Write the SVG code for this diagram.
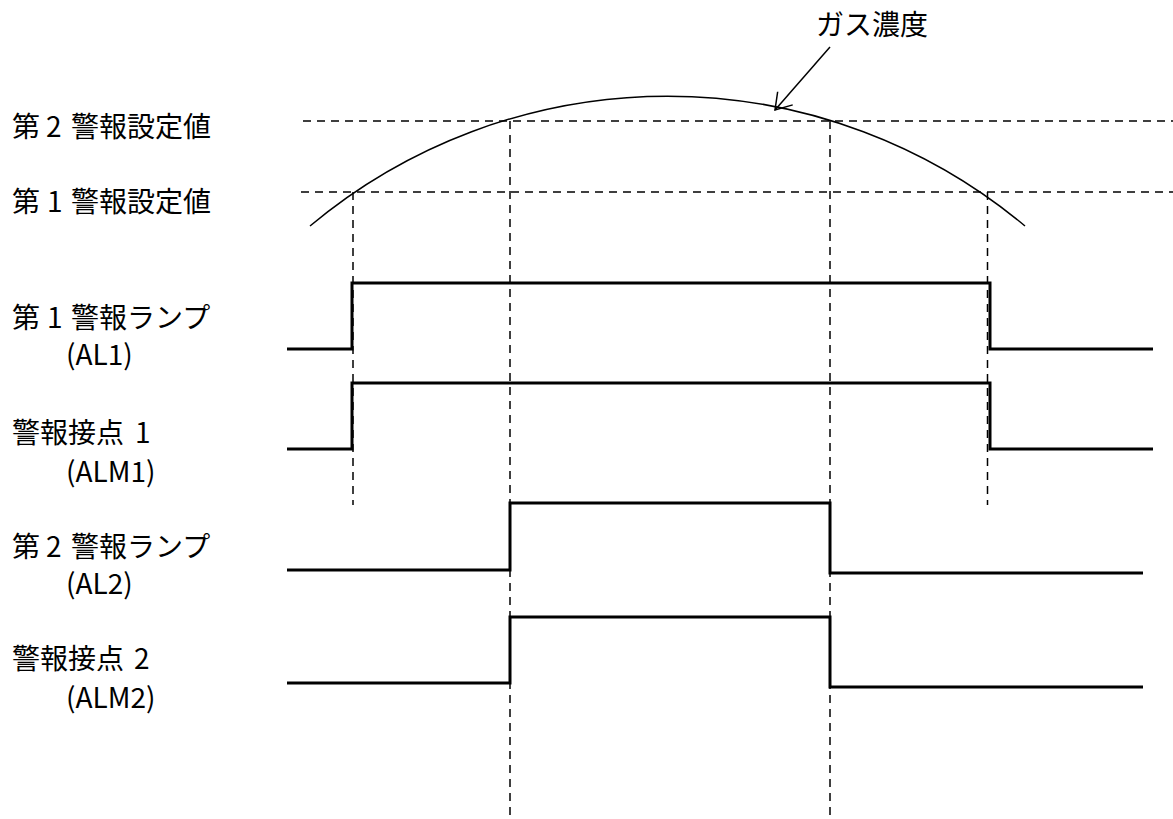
<svg xmlns="http://www.w3.org/2000/svg" width="1173" height="819" viewBox="0 0 1173 819">
  <style>
    .lbl { font-family: "Noto Sans CJK JP", "Noto Sans", sans-serif; font-size: 28px; fill: #000; }
    .dash { fill: none; stroke: #000; stroke-width: 1.5; stroke-dasharray: 8 6; }
    .thin { fill: none; stroke: #000; stroke-width: 1.5; }
    .wave { fill: none; stroke: #000; stroke-width: 3; stroke-linejoin: miter; }
  </style>
  <defs>
    <marker id="openArrow" markerUnits="userSpaceOnUse" viewBox="-20 -12 22 24" markerWidth="22" markerHeight="24" refX="0" refY="0" orient="auto" overflow="visible">
      <path d="M-15.5,-10 L0,0 L-15.5,10" fill="none" stroke="#000" stroke-width="1.5"/>
    </marker>
  </defs>
  <rect width="1173" height="819" fill="#fff"/>

  <g id="labels">
    <g id="label-gas">
      <text class="lbl" x="816" y="35" font-size="27">ガス濃度</text>
    </g>
    <g id="label-set2">
      <text class="lbl" y="137"><tspan x="12">第</tspan><tspan x="46">2</tspan><tspan x="71">警報設定値</tspan></text>
    </g>
    <g id="label-set1">
      <text class="lbl" y="212"><tspan x="12">第</tspan><tspan x="47">1</tspan><tspan x="71">警報設定値</tspan></text>
    </g>
    <g id="label-al1">
      <text class="lbl" y="328"><tspan x="12">第</tspan><tspan x="47">1</tspan><tspan x="71">警報ランプ</tspan></text>
      <text class="lbl" x="66" y="365">(AL1)</text>
    </g>
    <g id="label-alm1">
      <text class="lbl" y="443"><tspan x="12">警報接点</tspan><tspan x="135">1</tspan></text>
      <text class="lbl" x="66" y="482">(ALM1)</text>
    </g>
    <g id="label-al2">
      <text class="lbl" y="557"><tspan x="12">第</tspan><tspan x="46">2</tspan><tspan x="71">警報ランプ</tspan></text>
      <text class="lbl" x="66" y="594">(AL2)</text>
    </g>
    <g id="label-alm2">
      <text class="lbl" y="669"><tspan x="12">警報接点</tspan><tspan x="134">2</tspan></text>
      <text class="lbl" x="66" y="708">(ALM2)</text>
    </g>
  </g>

  <g id="guides">
    <line class="dash" x1="303" y1="121" x2="1173" y2="121"/>
    <line class="dash" x1="301" y1="192" x2="1173" y2="192"/>
    <line class="dash" x1="353" y1="192" x2="353" y2="505"/>
    <line class="dash" x1="510" y1="121" x2="510" y2="819"/>
    <line class="dash" x1="830" y1="121" x2="830" y2="819"/>
    <line class="dash" x1="987.5" y1="192" x2="987.5" y2="505"/>
  </g>

  <g id="gas-curve">
    <path class="thin" d="M310,226 A557,557 0 0 1 1025,226"/>
  </g>

  <g id="connectors">
    <line class="thin" x1="830" y1="47" x2="775" y2="110" marker-end="url(#openArrow)"/>
  </g>

  <g id="waveforms">
    <path id="wave-al1" class="wave" d="M287,349 H352 V283 H990 V349 H1153"/>
    <path id="wave-alm1" class="wave" d="M287,449 H352 V383 H990 V449 H1153"/>
    <path id="wave-al2" class="wave" d="M287,570 H510 V503 H830 V573 H1143"/>
    <path id="wave-alm2" class="wave" d="M287,683 H510 V617 H830 V687 H1143"/>
  </g>
</svg>
